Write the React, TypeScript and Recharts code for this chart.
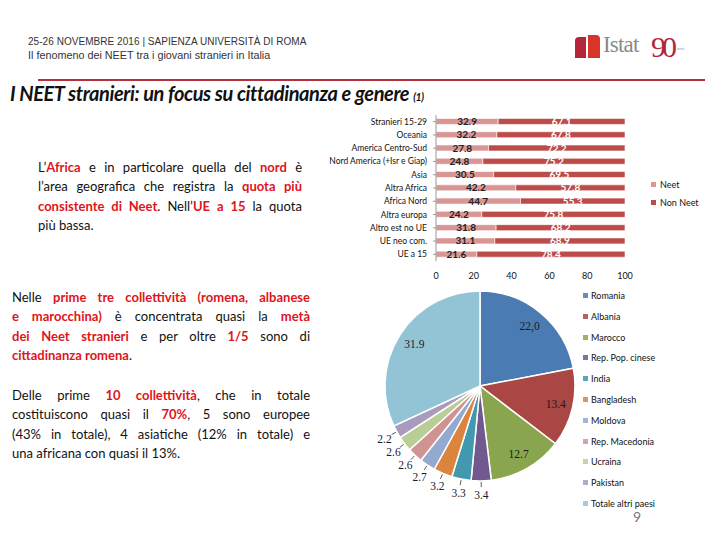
import React from 'react';
import { BarChart, Bar, XAxis, YAxis, LabelList, PieChart, Pie, Cell } from 'recharts';

// --- data ---
const regions = [
  'Stranieri 15-29', 'Oceania', 'America Centro-Sud', 'Nord America (+Isr e Giap)', 'Asia',
  'Altra Africa', 'Africa Nord', 'Altra europa', 'Altro est no UE', 'UE neo com.', 'UE a 15',
];
const neetShare = [32.9, 32.2, 27.8, 24.8, 30.5, 42.2, 44.7, 24.2, 31.8, 31.1, 21.6];
const nonNeetShare = [67.1, 67.8, 72.2, 75.2, 69.5, 57.8, 55.3, 75.8, 68.2, 68.9, 78.4];
const xTicks = [0, 20, 40, 60, 80, 100];

const countries = [
  'Romania', 'Albania', 'Marocco', 'Rep. Pop. cinese', 'India', 'Bangladesh',
  'Moldova', 'Rep. Macedonia', 'Ucraina', 'Pakistan', 'Totale altri paesi',
];
const countryShare = [22.0, 13.4, 12.7, 3.4, 3.3, 3.2, 2.7, 2.6, 2.6, 2.2, 31.9];
const countryLabels = ['22,0', '13.4', '12.7', '3.4', '3.3', '3.2', '2.7', '2.6', '2.6', '2.2', '31.9'];

// --- styles ---
const pieColors = ['#4a7bb2', '#aa4643', '#89a54e', '#71588f', '#4198af', '#db843d',
  '#93a9cf', '#d19392', '#b9cd96', '#a99bbd', '#93c4d6'];
const NEET = '#d99694';
const NON_NEET = '#bd4b49';
const RED = '#e0141b';
const sans = 'Lato, "Open Sans", sans-serif';

const barRows = regions.map((name, i) => ({ name, neet: neetShare[i], nonNeet: nonNeetShare[i] }));
const pieRows = countries.map((name, i) => ({ name, value: countryShare[i], label: countryLabels[i] }));

const RADIAN = Math.PI / 180;

const pieLabel = (p: any) => {
  const { cx, cy, midAngle, outerRadius, index, value } = p;
  const inside = value > 10;
  const r = inside ? outerRadius * 0.82 : outerRadius + 14;
  const cos = Math.cos(-midAngle * RADIAN);
  const sin = Math.sin(-midAngle * RADIAN);
  const x = cx + r * cos;
  const y = cy + r * sin;
  return (
    <g key={`lbl-${index}`}>
      {!inside && (
        <line
          x1={cx + (outerRadius + 1) * cos}
          y1={cy + (outerRadius + 1) * sin}
          x2={cx + (outerRadius + 6) * cos}
          y2={cy + (outerRadius + 6) * sin}
          stroke="#333"
          strokeWidth={0.8}
        />
      )}
      <text x={x} y={y} textAnchor="middle" dominantBaseline="central"
        fontFamily='"Liberation Serif", "DejaVu Serif", serif' fontSize={11.5} fill="#1b1b2a">
        {pieRows[index].label}
      </text>
    </g>
  );
};

const CategoryTick = (p: any) => {
  const { x, y, payload } = p;
  return (
    <text x={x} y={y} textAnchor="end" dominantBaseline="central" fontSize={8.5}
      fontFamily={sans} fill="#111">
      {payload.value}
    </text>
  );
};

const Line = ({ children, last }: { children: React.ReactNode; last?: boolean }) => (
  <div style={{ whiteSpace: 'nowrap', textAlign: 'justify', textAlignLast: last ? 'left' : 'justify' }}>
    {children}
  </div>
);

const R = ({ children }: { children: React.ReactNode }) => (
  <span style={{ color: RED, fontWeight: 700 }}>{children}</span>
);

export default function App() {
  const para: React.CSSProperties = {
    position: 'absolute', fontFamily: sans, fontSize: 13, lineHeight: '19.3px', color: '#111',
  };
  const head: React.CSSProperties = {
    position: 'absolute', left: 28, fontFamily: '"Liberation Sans", Arial, sans-serif', fontSize: 10, color: '#333',
  };
  return (
    <div style={{ position: 'absolute', left: 0, top: 0, width: 720, height: 540, background: '#fff', overflow: 'hidden' }}>
      {/* header */}
      <div style={{ ...head, top: 36, letterSpacing: 0.05 }}>25-26 NOVEMBRE 2016 | SAPIENZA UNIVERSITÀ DI ROMA</div>
      <div style={{ ...head, top: 49, fontSize: 10.8 }}>Il fenomeno dei NEET tra i giovani stranieri in Italia</div>
      {/* logo */}
      <div style={{ position: 'absolute', left: 575, top: 37, width: 11, height: 21, background: '#b3263a', borderTopLeftRadius: 4 }} />
      <div style={{ position: 'absolute', left: 588, top: 35, width: 12, height: 23, background: '#d8352a', borderTopRightRadius: 4 }} />
      <div style={{ position: 'absolute', left: 603, top: 32, fontFamily: '"Liberation Serif", serif', fontSize: 23, color: '#8a8a8a', letterSpacing: -0.8 }}>
        Istat
      </div>
      <div style={{ position: 'absolute', left: 651, top: 30, fontFamily: '"Liberation Serif", serif', fontSize: 30, color: '#b3263a', letterSpacing: -4 }}>
        90
      </div>
      <div style={{ position: 'absolute', left: 677, top: 46, fontFamily: sans, fontSize: 4, color: '#999' }}>anni</div>
      <div style={{ position: 'absolute', left: 38, top: 79, width: 667, height: 2, background: '#b3313f' }} />
      {/* title */}
      <div style={{ position: 'absolute', left: 10, top: 81, fontFamily: sans, fontSize: 20, fontWeight: 700, fontStyle: 'italic', color: '#111', letterSpacing: -0.4 }}>
        I NEET stranieri: un focus su cittadinanza e genere <span style={{ fontSize: 10.5 }}>(1)</span>
      </div>

      {/* paragraphs */}
      <div style={{ ...para, left: 38, top: 158, width: 264 }}>
        <Line>L’<R>Africa</R> e in particolare quella del <R>nord</R> è</Line>
        <Line>l’area geografica che registra la <R>quota più</R></Line>
        <Line><R>consistente di Neet</R>. Nell’<R>UE a 15</R> la quota</Line>
        <Line last>più bassa.</Line>
      </div>
      <div style={{ ...para, left: 12, top: 288, width: 298 }}>
        <Line>Nelle <R>prime tre collettività (romena, albanese</R></Line>
        <Line><R>e marocchina)</R> è concentrata quasi la <R>metà</R></Line>
        <Line><R>dei Neet stranieri</R> e per oltre <R>1/5</R> sono di</Line>
        <Line last><R>cittadinanza romena</R>.</Line>
      </div>
      <div style={{ ...para, left: 12, top: 386, width: 298 }}>
        <Line>Delle prime <R>10 collettività</R>, che in totale</Line>
        <Line>costituiscono quasi il <R>70%</R>, 5 sono europee</Line>
        <Line>(43% in totale), 4 asiatiche (12% in totale) e</Line>
        <Line last>una africana con quasi il 13%.</Line>
      </div>

      {/* stacked bars */}
      <div style={{ position: 'absolute', left: 310, top: 105 }}>
        <BarChart width={330} height={180} data={barRows} layout="vertical"
          margin={{ top: 10, right: 15, bottom: 0, left: 0 }} barCategoryGap="26%">
          <XAxis type="number" domain={[0, 100]} ticks={xTicks} axisLine={false} tickLine={false}
            height={24} tickMargin={6} tick={{ fontSize: 9, fill: '#111', fontFamily: sans }} />
          <YAxis type="category" dataKey="name" width={126} stroke="#999" tickSize={3} tickMargin={6}
            interval={0} tick={<CategoryTick />} />
          <Bar dataKey="neet" stackId="a" fill={NEET} stroke="#fff" strokeWidth={0.6} isAnimationActive={false}>
            <LabelList dataKey="neet" position="center" fill="#222" stroke="none" fontSize={10} fontWeight={700}
              fontFamily={sans} formatter={(v: any) => Number(v).toFixed(1)} />
          </Bar>
          <Bar dataKey="nonNeet" stackId="a" fill={NON_NEET} stroke="#fff" strokeWidth={0.6} isAnimationActive={false}>
            <LabelList dataKey="nonNeet" position="center" fill="#fff" stroke="none" fontSize={10} fontWeight={700}
              fontFamily={sans} formatter={(v: any) => Number(v).toFixed(1)} />
          </Bar>
        </BarChart>
      </div>
      {[{ name: 'Neet', color: NEET }, { name: 'Non Neet', color: NON_NEET }].map((l, i) => (
        <div key={l.name} style={{ position: 'absolute', left: 651, top: 179 + i * 18, fontFamily: sans, fontSize: 9, color: '#111', display: 'flex', alignItems: 'center' }}>
          <span style={{ width: 5, height: 5, background: l.color, marginRight: 4, display: 'inline-block' }} />
          {l.name}
        </div>
      ))}

      {/* pie */}
      <div style={{ position: 'absolute', left: 360, top: 280 }}>
        <PieChart width={220} height={225}>
          <Pie data={pieRows} dataKey="value" nameKey="name" cx={115} cy={101} outerRadius={95}
            startAngle={90} endAngle={-270} stroke="#fff" strokeWidth={1.5}
            label={pieLabel} labelLine={false} isAnimationActive={false}>
            {pieRows.map((r, i) => <Cell key={r.name} fill={pieColors[i]} />)}
          </Pie>
        </PieChart>
      </div>
      {countries.map((c, i) => (
        <div key={c} style={{ position: 'absolute', left: 583, top: 290 + i * 20.8, fontFamily: sans, fontSize: 9, color: '#111', display: 'flex', alignItems: 'center' }}>
          <span style={{ width: 5, height: 5, background: pieColors[i], marginRight: 3, display: 'inline-block', opacity: 0.85 }} />
          {c}
        </div>
      ))}
      <div style={{ position: 'absolute', left: 633, top: 510, fontFamily: sans, fontSize: 14, lineHeight: '14px', color: '#777' }}>9</div>
    </div>
  );
}
